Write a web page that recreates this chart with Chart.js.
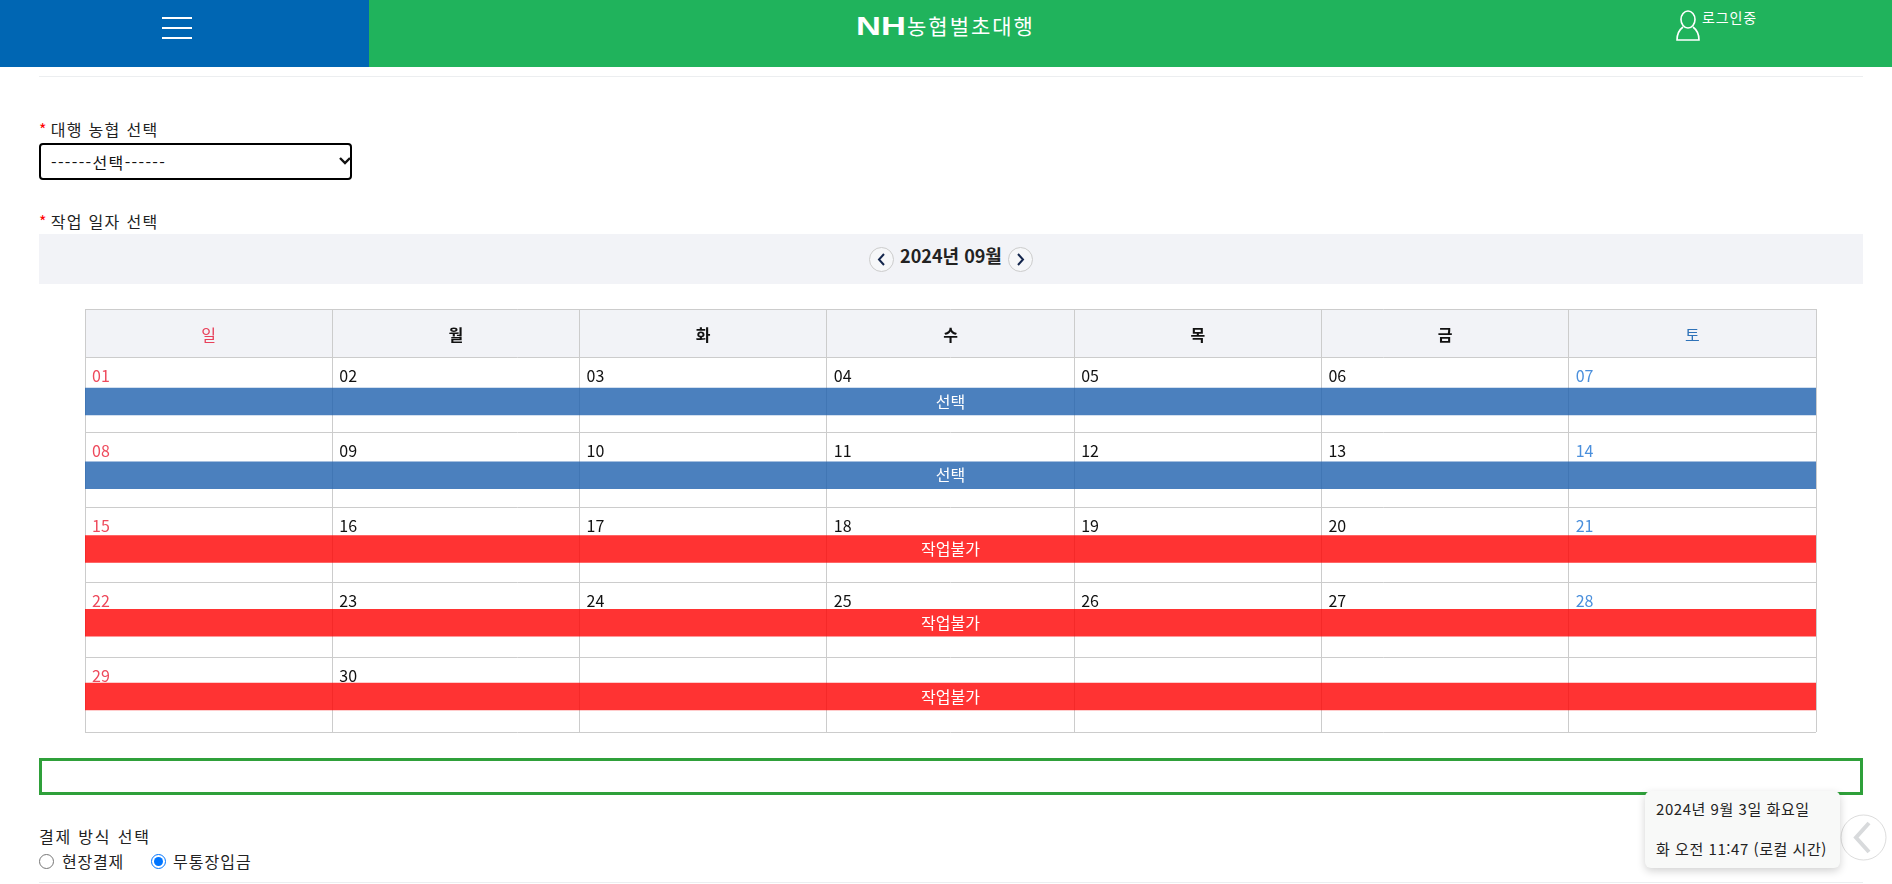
<!DOCTYPE html>
<html lang="ko">
<head>
<meta charset="utf-8">
<title>NH농협벌초대행</title>
<script src="https://cdn.jsdelivr.net/npm/chart.js@4"></script>
<style>
  html, body { margin: 0; padding: 0; background: #fff; overflow: hidden; }
  body { width: 1892px; height: 884px; position: relative; font-family: "Noto Sans CJK KR", sans-serif; color: #222; }
  .abs { position: absolute; white-space: nowrap; }
  .label { font-size: 16px; letter-spacing: 1.3px; line-height: 20px; }
  .label i { color: #f00; font-style: normal; margin-right: 3px; }
  .rule { position: absolute; left: 39px; width: 1824px; height: 1px; background: #eceef0; }
  #calendar { position: absolute; left: 70px; top: 300px; }
  select { position: absolute; left: 39px; top: 143px; width: 313px; height: 37px; box-sizing: border-box; border: 2px solid #000; border-radius: 4px; background: #fff; font: 16px "Noto Sans CJK KR", sans-serif; letter-spacing: 1.35px; color: #111; padding-left: 10px; outline: none; appearance: none; }
  input[type=radio] { position: absolute; margin: 0; width: 15px; height: 15px; accent-color: #0075ff; }
  .navBtn { position: absolute; top: 247px; width: 25px; height: 25px; box-sizing: border-box; border: 1px solid #ccc; border-radius: 50%; background: #f6f7f9; }
  #clock { position: absolute; left: 1645px; top: 791px; width: 195px; height: 77px; background: #f8f9f8; border-radius: 6px; box-shadow: 0 3px 8px rgba(0,0,0,.18); font-size: 15px; letter-spacing: .55px; color: #222; }
</style>
</head>
<body>
  <div class="abs" style="left:0;top:0;width:369px;height:67px;background:#0066b3"></div>
  <div class="abs" style="left:369px;top:0;width:1523px;height:67px;background:#20b35c"></div>
  <div class="abs" style="left:162px;top:17px;width:30px;height:2px;background:#fff"></div>
  <div class="abs" style="left:162px;top:27px;width:30px;height:2px;background:#fff"></div>
  <div class="abs" style="left:162px;top:37px;width:30px;height:2px;background:#fff"></div>
  <div class="abs" style="left:856px;top:10px;color:#fff;font:bold 25px/32px 'Liberation Sans',sans-serif;transform:scaleX(1.38);transform-origin:left">NH</div>
  <div class="abs" style="left:907px;top:9px;color:#fff;font-size:21px;line-height:32px;letter-spacing:2px;">농협벌초대행</div>
  <svg class="abs" style="left:1675px;top:10px" width="26" height="32" viewBox="0 0 26 32" fill="none" stroke="#fff" stroke-width="1.6">
    <ellipse cx="13" cy="9.5" rx="7" ry="8.5"/>
    <path d="M8 17 C4 20 2 25 2 30 L24 30 C24 25 22 20 18 17"/>
  </svg>
  <div class="abs" style="left:1702px;top:7px;color:#fff;font-size:14px;line-height:20px;letter-spacing:.9px">로그인중</div>

  <div class="rule" style="top:76px"></div>

  <div class="abs label" style="left:39px;top:119px"><i>*</i>대행 농협 선택</div>
  <select><option>------선택------</option></select>
  <svg class="abs" style="left:339px;top:155px" width="12" height="12" fill="none" stroke="#111" stroke-width="2.4"><path d="M1 3 L6 8 L11 3"/></svg>
  <div class="abs label" style="left:39px;top:211px"><i>*</i>작업 일자 선택</div>

  <div class="abs" style="left:39px;top:234px;width:1824px;height:50px;background:#f2f3f7"></div>
  <div class="navBtn" style="left:869px"><svg width="23" height="23" fill="none" stroke="#14264d" stroke-width="2"><path d="M14 6 L9 11.5 L14 17"/></svg></div>
  <div class="navBtn" style="left:1008px"><svg width="23" height="23" fill="none" stroke="#14264d" stroke-width="2"><path d="M9 6 L14 11.5 L9 17"/></svg></div>
  <div class="abs" style="left:890px;top:243px;width:122px;text-align:center;font-size:18px;font-weight:700;line-height:24px;color:#222">2024년 09월</div>

  <canvas id="calendar" width="1760" height="445"></canvas>

  <div class="abs" style="left:39px;top:758px;width:1824px;height:37px;box-sizing:border-box;border:3px solid #2fa03a"></div>

  <div class="abs label" style="left:39px;top:826px;letter-spacing:1.8px">결제 방식 선택</div>
  <input type="radio" name="pay" style="left:39px;top:854px">
  <div class="abs" style="left:62px;top:851px;font-size:16px;line-height:20px;letter-spacing:.8px">현장결제</div>
  <input type="radio" name="pay" checked style="left:151px;top:854px">
  <div class="abs" style="left:173px;top:851px;font-size:16px;line-height:20px;letter-spacing:1px">무통장입금</div>
  <div class="rule" style="top:882px"></div>

  <svg class="abs" style="left:1840px;top:814px" width="47" height="47" fill="#fff" stroke="#ddd">
    <circle cx="23.5" cy="23.5" r="22.5"/>
    <path d="M29 9 L16 23.5 L29 38" fill="none" stroke="#d8dadc" stroke-width="4"/>
  </svg>
  <div id="clock">
    <div class="abs" style="left:11px;top:8px;line-height:20px">2024년 9월 3일 화요일</div>
    <div class="abs" style="left:11px;top:48px;line-height:20px">화 오전 11:47 (로컬 시간)</div>
  </div>

<script>
const weekDays = ["일", "월", "화", "수", "목", "금", "토"];
const weekDates = [
  ["01", "02", "03", "04", "05", "06", "07"],
  ["08", "09", "10", "11", "12", "13", "14"],
  ["15", "16", "17", "18", "19", "20", "21"],
  ["22", "23", "24", "25", "26", "27", "28"],
  ["29", "30", "", "", "", "", ""],
];
const barWeeks = [0, 1, 2, 3, 4];
const barLabels = ["선택", "선택", "작업불가", "작업불가", "작업불가"];

const fontName = '"Noto Sans CJK KR", sans-serif';
const statusColors = { 선택: "rgba(30, 96, 174, 0.8)", 작업불가: "rgba(255, 0, 0, 0.8)" };
const dayColors = { 0: "#e8405a", 6: "#2f72b8" };
const dateColors = { 0: "#ee4a5c", 6: "#4a8fdc" };

// 요일 칸 배경 + 날짜 + 막대 글씨
const calendarText = {
  id: "calendarText",
  beforeDraw(chart) {
    const head = chart.scales.xDays;
    const area = chart.chartArea;
    const ctx = chart.ctx;
    ctx.save();
    ctx.fillStyle = "#f2f3f7";
    ctx.fillRect(area.left, head.top, area.right - area.left, area.top - head.top);
    ctx.strokeStyle = "#ccc";
    ctx.lineWidth = 1;
    ctx.beginPath();
    ctx.moveTo(area.left, head.top + 0.5);
    ctx.lineTo(area.right, head.top + 0.5);
    ctx.stroke();
    ctx.restore();
  },
  afterDatasetsDraw(chart) {
    const ctx = chart.ctx;
    const x = chart.scales.x;
    const y = chart.scales.y;
    const yBar = chart.scales.yBar;
    ctx.save();
    ctx.font = "16px " + fontName;
    ctx.textBaseline = "middle";
    ctx.textAlign = "left";
    weekDates.forEach((row, week) => {
      row.forEach((date, col) => {
        ctx.fillStyle = dateColors[col] || "#111";
        ctx.fillText(date, x.getPixelForValue(col) + 7, y.getPixelForValue(week) + 19);
      });
    });
    ctx.textAlign = "center";
    ctx.fillStyle = "#fff";
    barLabels.forEach((text, i) => {
      ctx.fillText(text, x.getPixelForValue(3.5), yBar.getPixelForValue(barWeeks[i]));
    });
    ctx.restore();
  },
};

new Chart(document.getElementById("calendar").getContext("2d"), {
  type: "bar",
  data: {
    datasets: [
      {
        data: barWeeks.map((w) => ({ x: [0, weekDays.length], y: w })),
        backgroundColor: barLabels.map((s) => statusColors[s]),
        borderWidth: 0,
        barThickness: 27,
        xAxisID: "x",
        yAxisID: "yBar",
      },
    ],
  },
  plugins: [calendarText],
  options: {
    indexAxis: "y",
    responsive: false,
    animation: false,
    devicePixelRatio: 1,
    layout: { padding: { left: 15, right: 14, top: 9, bottom: 13 } },
    plugins: { legend: { display: false }, tooltip: { enabled: false } },
    scales: {
      x: { type: "linear", min: 0, max: weekDays.length, display: false },
      xDays: {
        axis: "x",
        type: "category",
        labels: weekDays,
        position: "top",
        offset: true,
        afterFit(scale) {
          scale.height = 48;
        },
        border: { display: false },
        grid: { color: "#ccc", lineWidth: 1, tickLength: 48, offset: true },
        ticks: {
          padding: -36,
          maxRotation: 0,
          font: (c) => ({
            family: fontName,
            size: 16,
            weight: dayColors[c.index] ? "normal" : "bold",
          }),
          color: (c) => dayColors[c.index] || "#111",
        },
      },
      y: {
        type: "linear",
        reverse: true,
        offset: false,
        min: 0,
        max: weekDates.length,
        afterFit(scale) {
          scale.width = 0;
        },
        border: { display: false },
        grid: { color: "#ccc", lineWidth: 1, drawTicks: false, offset: false },
        ticks: { display: false, stepSize: 1 },
      },
      yBar: {
        type: "linear",
        reverse: true,
        offset: false,
        min: -0.6034,
        max: 4.4814,
        display: false,
      },
    },
  },
});
</script>
</body>
</html>
